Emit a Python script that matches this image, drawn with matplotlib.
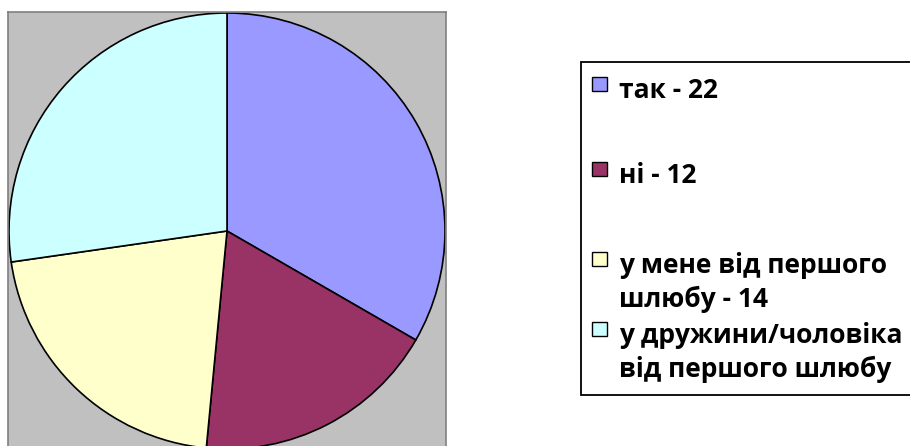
import matplotlib
matplotlib.use("Agg")
import matplotlib.pyplot as plt
from matplotlib.patches import Rectangle

labels = ["так - 22", "ні - 12", "у мене від першого\nшлюбу - 14", "у дружини/чоловіка\nвід першого шлюбу"]
values = [22, 12, 14, 18]
colors = ["#9999FF", "#993366", "#FFFFCC", "#CCFFFF"]

W, H = 910, 446
fig = plt.figure(figsize=(W/100, H/100), dpi=100)
fig.patch.set_facecolor("white")

def fx(px): return px / W
def fy(py): return 1 - py / H

# plot area
left, top, width, height = 8, 12, 438, 438
ax = fig.add_axes([fx(left), fy(top + height), width / W, height / H])
ax.pie(values, colors=colors, startangle=90, counterclock=False, radius=1.0,
       wedgeprops=dict(edgecolor="black", linewidth=1.2))
ax.set_frame_on(True)
ax.set_facecolor("#C0C0C0")
ax.patch.set_visible(True)
r = width / 2 / 218
ax.set_xlim(-r, r)
ax.set_ylim(-r, r)
ax.set_aspect("auto")
ax.set_xticks([]); ax.set_yticks([])
for s in ax.spines.values():
    s.set_visible(True)
    s.set_edgecolor("#808080")
    s.set_linewidth(1.2)

# legend
fig.patches.append(Rectangle((fx(581), fy(395)), fx(360), (395 - 62) / H,
                             transform=fig.transFigure, facecolor="white",
                             edgecolor="black", linewidth=1.3, clip_on=False))
baselines = [98, 183, 273, 343]
line_gap = 34
for lab, col, yb in zip(labels, colors, baselines):
    fig.patches.append(Rectangle((fx(592), fy(yb - 21 + 14)), 15 / W, 14 / H,
                                 transform=fig.transFigure, facecolor=col,
                                 edgecolor="black", linewidth=1.0))
    for i, line in enumerate(lab.split("\n")):
        fig.text(fx(619), fy(yb + i * line_gap), line, fontsize=19, fontweight="bold",
                 family=["Open Sans", "DejaVu Sans"], va="baseline", ha="left")

fig.savefig("out.png", dpi=100)
